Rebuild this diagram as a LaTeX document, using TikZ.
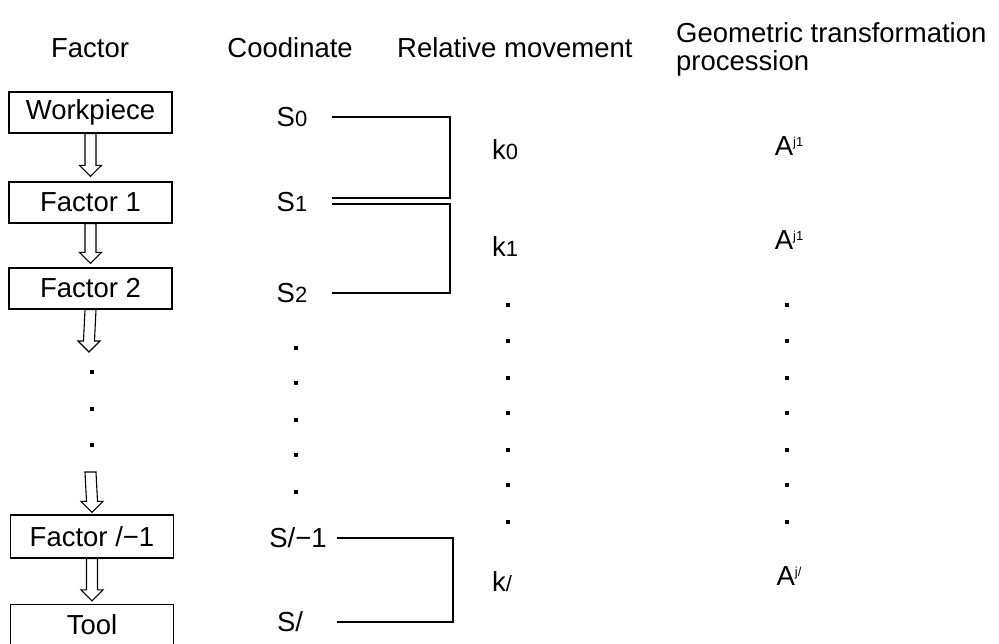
\documentclass[tikz,border=0pt]{standalone}
\usepackage{fontspec}
\setmainfont{Liberation Sans}
\usetikzlibrary{calc}

\newcommand{\idx}[1]{{\fontsize{22}{22}\selectfont #1}}
\newcommand{\supx}[1]{\raisebox{9pt}{\fontsize{13}{13}\selectfont #1}}
% hollow arrow from #1 down to the tip #2
\newcommand{\hollowarrow}[2]{%
  \draw[blockarrow] ($(#1)+(-5.5pt,0)$) -- ($(#2)+(-5.5pt,11pt)$) -- ($(#2)+(-11pt,11pt)$) -- (#2)
    -- ($(#2)+(11pt,11pt)$) -- ($(#2)+(5.5pt,11pt)$) -- ($(#1)+(5.5pt,0)$) -- cycle;}

\begin{document}
\begin{tikzpicture}[x=1pt,y=-1pt,
  every node/.style={font=\fontsize{27.5}{32}\selectfont},
  factorbox/.style={draw,line width=1.2pt,minimum width=163pt,minimum height=41pt,inner sep=0pt},
  blockarrow/.style={line width=1.1pt,fill=white},
  bracket/.style={line width=1.3pt},
  dot/.style={fill=black}]
  \useasboundingbox (0,0) rectangle (999,643);

  % headers
  \node[anchor=base] (hfac) at (90,57) {Factor};
  \node[anchor=base east,inner sep=0pt] (hcoo) at (353,57) {Coodinate};
  \node[anchor=base west,inner sep=0pt] (hrel) at (397,57) {Relative movement};
  \node[anchor=base west,inner sep=0pt] (hgeo) at (676,42) {Geometric transformation};
  \node[anchor=base west,inner sep=0pt] (hpro) at (676,70) {procession};

  % factor chain
  \node[factorbox] (wp) at (90.5,112.5) {Workpiece};
  \node[factorbox] (f1) at (90.5,202.5) {Factor 1};
  \node[factorbox] (f2) at (90.5,288.5) {Factor 2};
  \node[factorbox,minimum height=43pt] (fn) at (92,536.5) {Factor /−1};
  \node[factorbox] (tool) at (92,625) {Tool};
  \coordinate (t3) at (89,352);
  \coordinate (b4) at (90.5,472);

  \hollowarrow{wp.south}{$(f1.north)+(0,5pt)$}
  \hollowarrow{f1.south}{$(f2.north)+(0,4pt)$}
  \hollowarrow{f2.south}{t3}
  \hollowarrow{b4}{$(fn.north)+(0,2pt)$}
  \hollowarrow{fn.south}{$(tool.north)+(0,3pt)$}
  \foreach \y in {372,409,445} \fill[dot] (92,\y) ++(-2,-2) rectangle ++(4,4);

  % coordinates
  \node (s0) at (292,117) {S\idx{0}};
  \node (s1) at (292,202) {S\idx{1}};
  \node (s2) at (292,293) {S\idx{2}};
  \node (sn1) at (298,538) {S/−1};
  \node (sn) at (290,622) {S/};
  \coordinate (lx) at (332,0);
  \coordinate (rx) at (450,0);
  \coordinate (lx2) at (337,0);
  \coordinate (rx2) at (453,0);
  \draw[bracket] (lx |- s0) -- (rx |- s0) -- ([yshift=4pt]rx |- s1) -- ([yshift=4pt]lx |- s1);
  \draw[bracket] ([yshift=-2pt]lx |- s1) -- ([yshift=-2pt]rx |- s1) -- (rx |- s2) -- (lx |- s2);
  \draw[bracket] (lx2 |- sn1) -- (rx2 |- sn1) -- (rx2 |- sn) -- (lx2 |- sn);
  \foreach \y in {348,383,420,455,492} \fill[dot] (296,\y) ++(-2,-2) rectangle ++(4,4);

  % relative movement
  \node (k0) at (505,150) {k\idx{0}};
  \node (k1) at (505,247) {k\idx{1}};
  \node (kn) at (502,582) {k\idx{/}};
  \foreach \y in {305,341,378,413,450,485,522} \fill[dot] (508,\y) ++(-2,-2) rectangle ++(4,4);

  % transformation
  \node (a0) at (789,146) {A\supx{j1}};
  \node (a1) at (789,240) {A\supx{j1}};
  \node (an) at (789,576) {A\supx{j/}};
  \foreach \y in {305,341,378,413,450,485,522} \fill[dot] (787,\y) ++(-2,-2) rectangle ++(4,4);
\end{tikzpicture}
\end{document}
